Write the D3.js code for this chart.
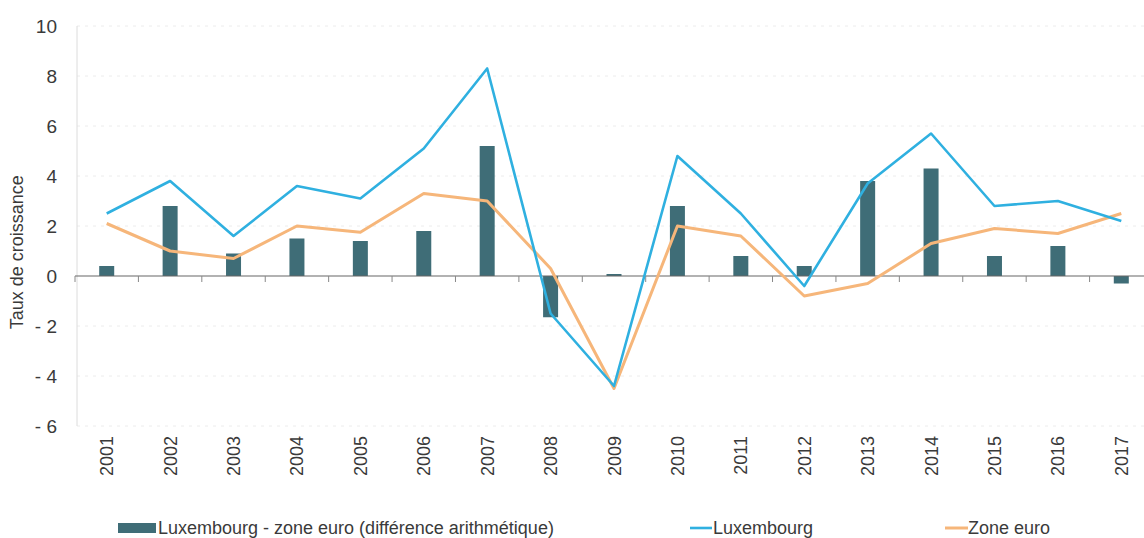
<!DOCTYPE html>
<html><head><meta charset="utf-8">
<script src="https://cdn.jsdelivr.net/npm/d3@7"></script>
<style>body{margin:0;background:#fff}svg{display:block}text{font-family:"Liberation Sans",Arial,sans-serif}</style>
</head><body>
<svg id="c" width="1144" height="538"></svg>
<script>
const years = ["2001","2002","2003","2004","2005","2006","2007","2008","2009","2010","2011","2012","2013","2014","2015","2016","2017"];
const diff = [0.4, 2.8, 0.9, 1.5, 1.4, 1.8, 5.2, -1.65, 0.08, 2.8, 0.8, 0.4, 3.8, 4.3, 0.8, 1.2, -0.3];
const lux = [2.5, 3.8, 1.6, 3.6, 3.1, 5.1, 8.3, -1.5, -4.4, 4.8, 2.5, -0.4, 3.7, 5.7, 2.8, 3.0, 2.2];
const euro = [2.1, 1.0, 0.7, 2.0, 1.75, 3.3, 3.0, 0.3, -4.5, 2.0, 1.6, -0.8, -0.3, 1.3, 1.9, 1.7, 2.5];
const yTicks = [10, 8, 6, 4, 2, 0, -2, -4, -6];
const legendLabels = ["Luxembourg - zone euro (différence arithmétique)", "Luxembourg", "Zone euro"];

const svg = d3.select("#c");
const x = d3.scaleBand().domain(years).range([75, 1153]).padding(0);
const y = d3.scaleLinear().domain([-6, 10]).range([426, 26]);
const cBar = "#3f6d77", cLux = "#2fb0e0", cEuro = "#f6b67a";

// gridlines
svg.append("g").selectAll("line").data(yTicks.filter(d => d !== 0)).join("line")
  .attr("x1", 77).attr("x2", 1144).attr("y1", d => y(d)).attr("y2", d => y(d))
  .attr("stroke", "#ececec").attr("stroke-width", 1).attr("stroke-dasharray", "3,5");
// y axis line
svg.append("line").attr("x1", 77).attr("x2", 77).attr("y1", y(10)).attr("y2", y(-6))
  .attr("stroke", "#dcdcdc").attr("stroke-width", 1);

// y tick labels
svg.append("g").selectAll("text").data(yTicks).join("text")
  .attr("x", 57).attr("y", d => y(d)).attr("dy", "0.35em").attr("text-anchor", "end")
  .attr("font-size", 19).attr("fill", "#3a3a3a")
  .text(d => d < 0 ? "- " + Math.abs(d) : d);

svg.append("text").attr("transform", `translate(23,${y(0.95)}) rotate(-90)`)
  .attr("text-anchor", "middle").attr("font-size", 18).attr("fill", "#3a3a3a").text("Taux de croissance");

// bars
svg.append("g").selectAll("rect").data(years).join("rect")
  .attr("x", (d) => x(d) + x.bandwidth() / 2 - 7.5).attr("width", 15)
  .attr("y", (d, i) => y(Math.max(0, diff[i]))).attr("height", (d, i) => Math.max(1.5, Math.abs(y(diff[i]) - y(0))))
  .attr("fill", cBar);

// zero axis with ticks
svg.append("line").attr("x1", 75).attr("x2", 1144).attr("y1", y(0)).attr("y2", y(0)).attr("stroke", "#666").attr("stroke-width", 1.2);
svg.append("g").selectAll("line").data(years).join("line")
  .attr("x1", d => x(d)).attr("x2", d => x(d)).attr("y1", y(0)).attr("y2", y(0) + 6)
  .attr("stroke", "#888").attr("stroke-width", 1);

// lines
const line = arr => d3.line().x((d, i) => x(years[i]) + x.bandwidth() / 2).y(d => y(d))(arr);
svg.append("path").attr("d", line(euro)).attr("fill", "none").attr("stroke", cEuro).attr("stroke-width", 3).attr("stroke-linejoin", "round");
svg.append("path").attr("d", line(lux)).attr("fill", "none").attr("stroke", cLux).attr("stroke-width", 2.6).attr("stroke-linejoin", "round");

// x labels
svg.append("g").selectAll("text").data(years).join("text")
  .attr("transform", d => `translate(${x(d) + x.bandwidth() / 2 + 6.5},436) rotate(-90)`)
  .attr("text-anchor", "end").attr("font-size", 18).attr("fill", "#3a3a3a").text(d => d);

// legend
const ly = 528;
svg.append("rect").attr("x", 118).attr("y", ly - 5).attr("width", 38).attr("height", 10).attr("fill", cBar);
svg.append("text").attr("x", 158).attr("y", ly).attr("dy", "0.35em").attr("font-size", 18).attr("fill", "#3a3a3a").text(legendLabels[0]);
svg.append("line").attr("x1", 690).attr("x2", 712).attr("y1", ly).attr("y2", ly).attr("stroke", cLux).attr("stroke-width", 2.6);
svg.append("text").attr("x", 713).attr("y", ly).attr("dy", "0.35em").attr("font-size", 18).attr("fill", "#3a3a3a").text(legendLabels[1]);
svg.append("line").attr("x1", 945).attr("x2", 968).attr("y1", ly).attr("y2", ly).attr("stroke", cEuro).attr("stroke-width", 3);
svg.append("text").attr("x", 968).attr("y", ly).attr("dy", "0.35em").attr("font-size", 18).attr("fill", "#3a3a3a").text(legendLabels[2]);
</script>
</body></html>
